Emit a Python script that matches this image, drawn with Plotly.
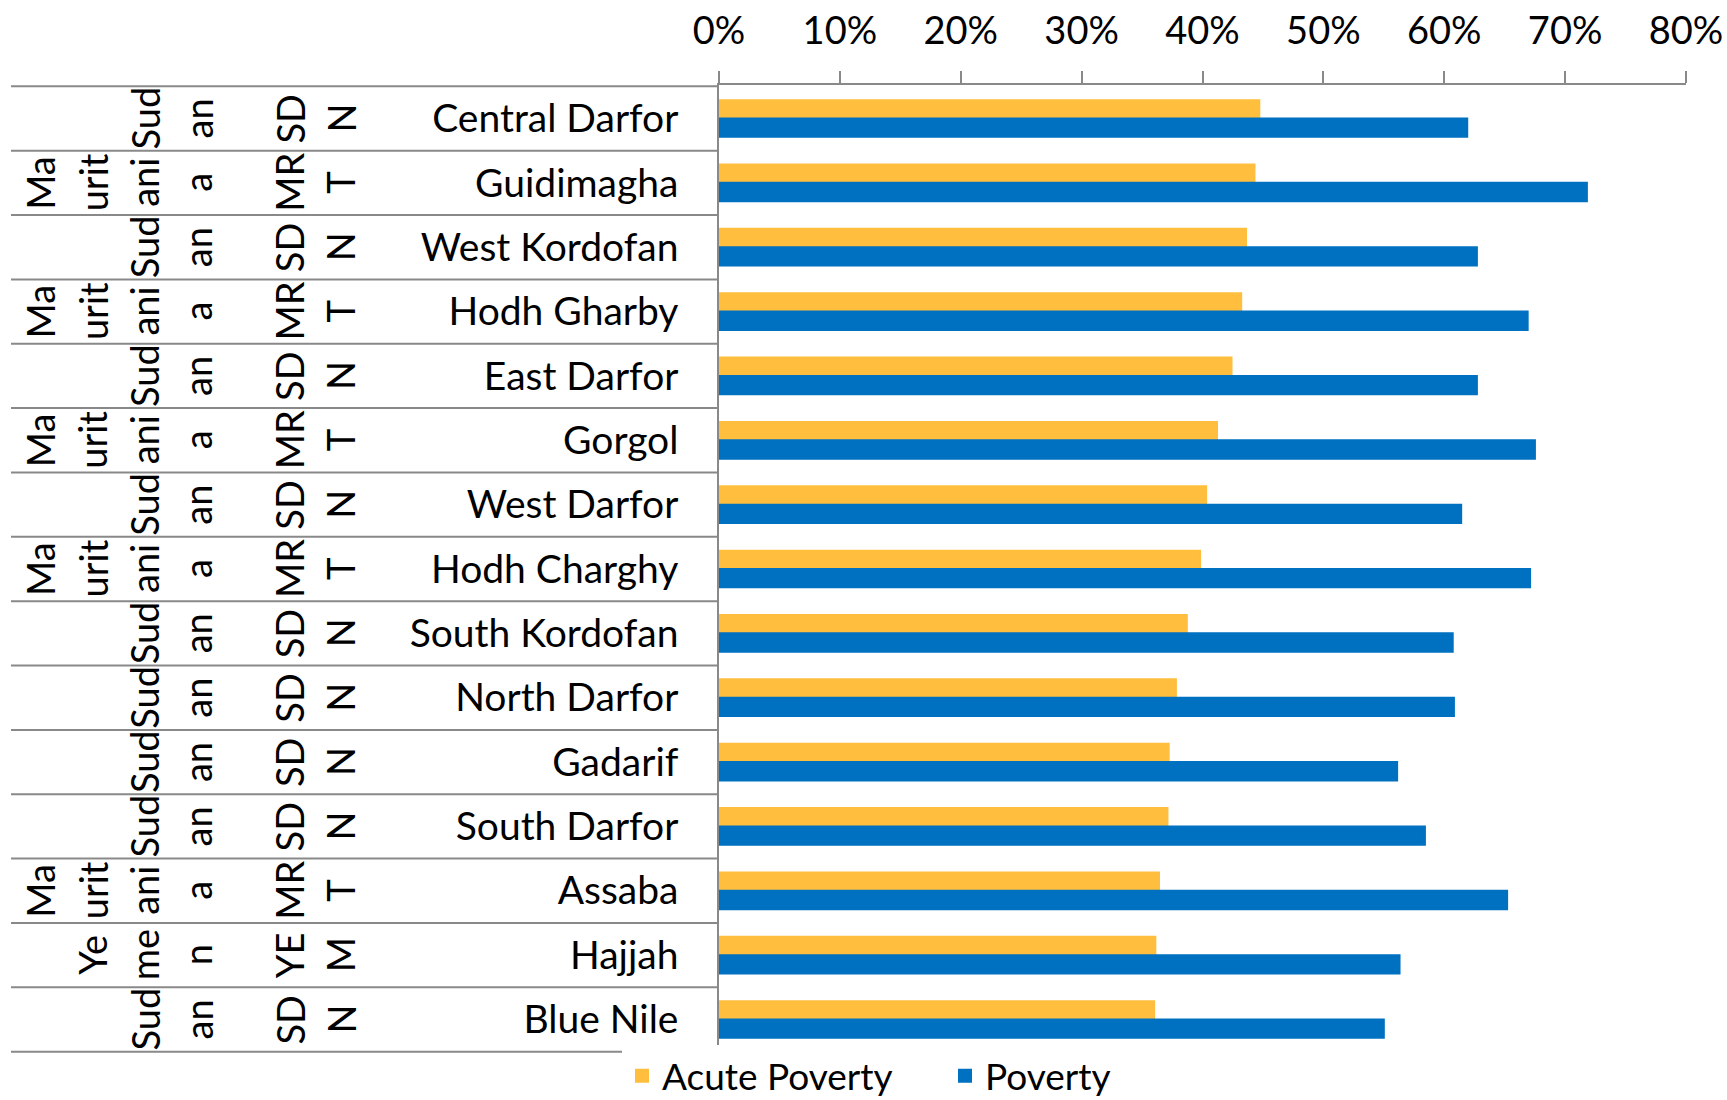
import plotly.graph_objects as go

# ---- data ----
regions = ["Central Darfor", "Guidimagha", "West Kordofan", "Hodh Gharby", "East Darfor",
           "Gorgol", "West Darfor", "Hodh Charghy", "South Kordofan", "North Darfor",
           "Gadarif", "South Darfor", "Assaba", "Hajjah", "Blue Nile"]
country_codes = ["SDN", "MRT", "SDN", "MRT", "SDN", "MRT", "SDN", "MRT", "SDN", "SDN",
                 "SDN", "SDN", "MRT", "YEM", "SDN"]
countries = ["Sudan", "Mauritania", "Sudan", "Mauritania", "Sudan", "Mauritania", "Sudan",
             "Mauritania", "Sudan", "Sudan", "Sudan", "Sudan", "Mauritania", "Yemen", "Sudan"]
acute_poverty = [44.7, 44.3, 43.6, 43.2, 42.4, 41.2, 40.3, 39.8, 38.7, 37.8,
                 37.2, 37.1, 36.4, 36.1, 36.0]
poverty = [61.9, 71.8, 62.7, 66.9, 62.7, 67.5, 61.4, 67.1, 60.7, 60.8,
           56.1, 58.4, 65.2, 56.3, 55.0]
tick_values = [0, 10, 20, 30, 40, 50, 60, 70, 80]
tick_labels = ["0%", "10%", "20%", "30%", "40%", "50%", "60%", "70%", "80%"]

# wrapped label text as it appears in the narrow category columns
country_wrap = {"Sudan": ["Sud", "an"], "Mauritania": ["Ma", "urit", "ani", "a"],
                "Yemen": ["Ye", "me", "n"]}
code_wrap = {"SDN": ["SD", "N"], "MRT": ["MR", "T"], "YEM": ["YE", "M"]}

ORANGE = "#FFBE3D"
BLUE = "#0070C0"
GRAY = "#898989"
FONT = "Lato, 'Open Sans', sans-serif"

W, H = 1727, 1100
ML, MR, MT, MB = 719, 41, 85, 47
PW = W - ML - MR


def px_to_paper(px):
    return (px - ML) / PW


fig = go.Figure()
fig.add_trace(go.Bar(y=regions, x=acute_poverty, orientation="h", name="Acute Poverty",
                     marker=dict(color=ORANGE, line=dict(color=ORANGE, width=2))))
fig.add_trace(go.Bar(y=regions, x=poverty, orientation="h", name="Poverty",
                     marker=dict(color=BLUE, line=dict(color=BLUE, width=2))))

country_cols = [40, 92.5, 144, 197]
code_cols = [289, 340]
annotations = []
for reg, ctry, code in zip(regions, countries, country_codes):
    lines = country_wrap[ctry]
    start = len(country_cols) - len(lines)
    for k, t in enumerate(lines):
        annotations.append(dict(x=px_to_paper(country_cols[start + k]), xref="paper",
                                y=reg, yref="y", text=t, textangle=-90, showarrow=False,
                                xanchor="center", yanchor="middle",
                                font=dict(family=FONT, size=38, color="black")))
    for k, t in enumerate(code_wrap[code]):
        annotations.append(dict(x=px_to_paper(code_cols[k]), xref="paper",
                                y=reg, yref="y", text=t, textangle=-90, showarrow=False,
                                xanchor="center", yanchor="middle",
                                font=dict(family=FONT, size=38, color="black")))

shapes = []
for i in range(len(regions) + 1):
    shapes.append(dict(type="line", xref="paper", yref="y",
                       x0=px_to_paper(11), x1=0, y0=i - 0.5, y1=i - 0.5,
                       line=dict(color=GRAY, width=2)))

fig.update_layout(
    width=W, height=H,
    margin=dict(l=ML, r=MR, t=MT, b=MB, autoexpand=False),
    paper_bgcolor="white", plot_bgcolor="white",
    barmode="group", bargap=0.43, bargroupgap=0,
    font=dict(family=FONT, size=39, color="black"),
    xaxis=dict(side="top", range=[0, 80], tickvals=tick_values, ticktext=tick_labels,
               showgrid=False, zeroline=False, showline=True, linecolor=GRAY, linewidth=1.5,
               ticks="outside", ticklen=12, tickcolor=GRAY, tickwidth=1.5,
               ticklabelstandoff=12, tickfont=dict(size=38), automargin=False),
    yaxis=dict(autorange="reversed", showgrid=False, zeroline=False, showline=True,
               linecolor=GRAY, linewidth=1.5, ticks="", ticklabelstandoff=31,
               tickfont=dict(size=39), automargin=False),
    legend=dict(orientation="h", x=px_to_paper(622), xanchor="left", y=-0.024,
                yanchor="middle", font=dict(size=37), traceorder="normal",
                entrywidth=278, entrywidthmode="pixels"),
    annotations=annotations,
    shapes=shapes,
)

fig.write_html("out.html", config={"displayModeBar": False},
               post_script="document.body.style.margin='0';document.body.style.overflow='hidden';")
